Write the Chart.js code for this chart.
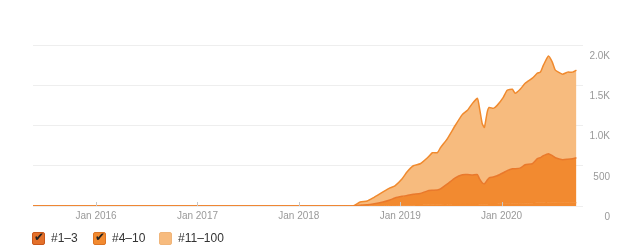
<!DOCTYPE html>
<html>
<head>
<meta charset="utf-8">
<script src="https://cdn.jsdelivr.net/npm/chart.js@4"></script>
<style>
	body { margin: 0; background: #fff; }
	#wrap { position: relative; width: 618px; height: 252px; }
	#legend { position: absolute; left: 0; top: 231px; font: 12px "Liberation Sans", Arial, sans-serif; color: #333; }
	.box { position: absolute; top: 1px; width: 11px; height: 11px; border: 1px solid; border-radius: 2px; }
	.box span { position: absolute; left: 1px; top: -3px; font: bold 12px "DejaVu Sans"; color: #222; }
	.lbl { position: absolute; top: 0; line-height: 14px; white-space: nowrap; }
</style>
</head>
<body>
<div id="wrap">
	<canvas id="chart" width="618" height="252"></canvas>
	<div id="legend"></div>
</div>
<script>
// dates of the points (keyword ranking history)
var dates = ["2015-05-18", "2018-06-16", "2018-07-15", "2018-08-10", "2018-09-04", "2018-09-25",
	"2018-10-31", "2018-11-25", "2018-12-13", "2019-01-08", "2019-01-26", "2019-02-17",
	"2019-03-14", "2019-04-09", "2019-04-27", "2019-05-15", "2019-05-26", "2019-06-20",
	"2019-07-18", "2019-08-13", "2019-08-31", "2019-09-18", "2019-10-06", "2019-10-13",
	"2019-10-23", "2019-10-31", "2019-11-10", "2019-11-17", "2019-12-02", "2019-12-16",
	"2020-01-07", "2020-01-21", "2020-02-09", "2020-02-19", "2020-03-08", "2020-03-26",
	"2020-04-21", "2020-05-09", "2020-05-20", "2020-05-31", "2020-06-18", "2020-07-02",
	"2020-07-13", "2020-08-08", "2020-08-26", "2020-09-13", "2020-09-27"];

var pos1to3 = [0, 0, 0, 0, 0, 3, 5, 5, 8, 10, 10, 10, 12, 15, 15, 15, 15, 20, 25, 25, 25, 25, 25, 22,
	20, 20, 22, 25, 25, 25, 30, 30, 30, 30, 30, 35, 35, 40, 40, 40, 45, 42, 40, 40, 40, 40, 40];

var pos4to10 = [0, 0, 0, 10, 15, 22, 45, 70, 92, 110, 120, 135, 143, 173, 180, 185, 198, 255, 325, 363,
	365, 360, 365, 318, 270, 255, 298, 325, 335, 350, 383, 410, 433, 433, 440, 478, 490, 548, 560,
	585, 605, 583, 560, 535, 540, 548, 560];

var pos11to100 = [0, 0, 0, 40, 47, 75, 125, 150, 150, 218, 295, 355, 370, 412, 467, 462, 512, 563, 650,
	750, 798, 890, 948, 885, 735, 700, 843, 875, 853, 875, 937, 998, 987, 937, 980, 1012, 1063, 1062,
	1063, 1125, 1213, 1163, 1088, 1063, 1083, 1075, 1088];

var yearTicks = [2016, 2017, 2018, 2019, 2020];
var yTicks = [0, 500, 1000, 1500, 2000];

var names = ["#1\u20133", "#4\u201310", "#11\u2013100"];
var boxColors = ["#e3702a", "#f28a30", "#f7bb7e"];
var fills = ["#f28a30", "#f28a30", "#f7bb7e"];
var lines = ["#f28a30", "#e9792c", "#f08a2e"];
var widths = [1, 1.5, 1.5];

function toYear(s) {
	var p = s.split("-");
	var d = Date.UTC(+p[0], +p[1] - 1, +p[2]);
	var a = Date.UTC(+p[0], 0, 1), b = Date.UTC(+p[0] + 1, 0, 1);
	return +p[0] + (d - a) / (b - a);
}

function pts(vals) {
	var out = [];
	for (var i = 0; i < dates.length; i++) {
		out.push({ x: toYear(dates[i]), y: vals[i] });
	}
	return out;
}

var series = [pos1to3, pos4to10, pos11to100];
var datasets = [];
for (var i = 0; i < series.length; i++) {
	datasets.push({
		label: names[i],
		data: pts(series[i]),
		backgroundColor: fills[i],
		borderColor: lines[i],
		borderWidth: widths[i],
		pointRadius: 0,
		tension: 0.15,
		fill: i == 0 ? "origin" : "-1"
	});
}

// little year marks sitting on the baseline
var tickMarks = {
	id: "tickMarks",
	afterDatasetsDraw: function(chart) {
		var ctx = chart.ctx, x = chart.scales.x, bottom = chart.chartArea.bottom;
		ctx.save();
		ctx.strokeStyle = "#c8c8c8";
		ctx.lineWidth = 1;
		for (var i = 0; i < yearTicks.length; i++) {
			var px = Math.round(x.getPixelForValue(yearTicks[i])) + 0.5;
			ctx.beginPath();
			ctx.moveTo(px, bottom - 4);
			ctx.lineTo(px, bottom);
			ctx.stroke();
		}
		ctx.restore();
	}
};

var ctx = document.getElementById("chart").getContext("2d");
var myChart = new Chart(ctx, {
	type: "line",
	data: { datasets: datasets },
	plugins: [tickMarks],
	options: {
		responsive: false,
		animation: false,
		layout: { padding: { left: 33, top: 45, right: 8, bottom: 26 } },
		plugins: { legend: { display: false }, tooltip: { enabled: false } },
		scales: {
			x: {
				type: "linear",
				min: 2015.378,
				max: 2020.807,
				grid: { display: false, drawTicks: false },
				border: { display: false },
				afterBuildTicks: function(axis) {
					axis.ticks = yearTicks.map(function(v) { return { value: v }; });
				},
				ticks: {
					maxRotation: 0,
					padding: 4,
					color: "#999",
					font: { family: "Liberation Sans", size: 10 },
					callback: function(v) { return "Jan " + v; }
				}
			},
			y: {
				position: "right",
				stacked: true,
				min: 0,
				max: 2000,
				grid: { color: "#eeeeee", drawTicks: false },
				border: { display: false },
				afterBuildTicks: function(axis) {
					axis.ticks = yTicks.map(function(v) { return { value: v }; });
				},
				ticks: {
					padding: 3,
					labelOffset: 11,
					crossAlign: "far",
					color: "#999",
					font: { family: "Liberation Sans", size: 10 },
					callback: function(v) { return v >= 1000 ? (v / 1000).toFixed(1) + "K" : v; }
				}
			}
		}
	}
});

// checkbox legend under the chart
var boxX = [32, 93, 159], textX = [51, 112, 178];
var borders = ["#c8571c", "#dc7424", "#f0b57a"];
var lg = document.getElementById("legend");
for (var i = 0; i < names.length; i++) {
	var b = document.createElement("div");
	b.className = "box";
	b.style.left = boxX[i] + "px";
	b.style.background = boxColors[i];
	b.style.borderColor = borders[i];
	if (i < 2) b.innerHTML = "<span>\u2714</span>";
	lg.appendChild(b);
	var t = document.createElement("div");
	t.className = "lbl";
	t.style.left = textX[i] + "px";
	t.textContent = names[i];
	lg.appendChild(t);
}
</script>
</body>
</html>
